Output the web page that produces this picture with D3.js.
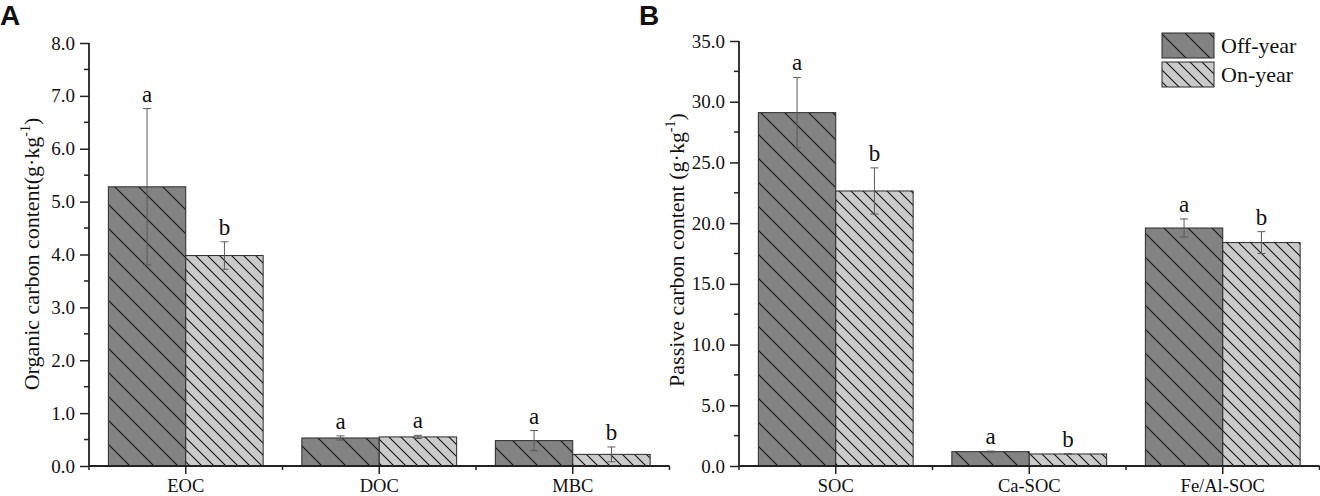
<!DOCTYPE html>
<html>
<head>
<meta charset="utf-8">
<script src="https://cdn.jsdelivr.net/npm/d3@7"></script>
<style>
  html, body { margin: 0; padding: 0; background: #fff; }
  svg { display: block; }
  text { font-family: "Liberation Serif", "Times New Roman", serif; fill: #111; }
</style>
</head>
<body>
<svg id="chart" width="1320" height="496"></svg>
<script>
// ---------- data ----------
const seriesNames = ["Off-year", "On-year"];

const categoriesA = ["EOC", "DOC", "MBC"];
const offA = [5.28, 0.53, 0.48];
const offAErr = [1.48, 0.04, 0.19];
const onA = [3.98, 0.55, 0.22];
const onAErr = [0.26, 0.03, 0.14];
const lettersOffA = ["a", "a", "a"];
const lettersOnA = ["b", "a", "b"];
const ticksA = [0, 1, 2, 3, 4, 5, 6, 7, 8];

const categoriesB = ["SOC", "Ca-SOC", "Fe/Al-SOC"];
const offB = [29.1, 1.18, 19.6];
const offBErr = [2.9, 0.05, 0.75];
const onB = [22.65, 0.99, 18.4];
const onBErr = [1.9, 0.03, 0.9];
const lettersOffB = ["a", "a", "a"];
const lettersOnB = ["b", "b", "b"];
const ticksB = [0, 5, 10, 15, 20, 25, 30, 35];

// ---------- drawing ----------
const SERIF = '"Liberation Serif", "Times New Roman", serif';
const svg = d3.select("#chart");
const defs = svg.append("defs");

function hatch(id, fill, size) {
  const p = defs.append("pattern")
    .attr("id", id).attr("patternUnits", "userSpaceOnUse")
    .attr("width", size).attr("height", size);
  p.append("rect").attr("width", size).attr("height", size).attr("fill", fill);
  p.append("path")
    .attr("d", `M0,0L${size},${size}M${-3},${size - 3}L3,${size + 3}M${size - 3},-3L${size + 3},3`)
    .attr("stroke", "#151515").attr("stroke-width", 1.1);
}
hatch("hatchOff", "#828282", 24);
hatch("hatchOn", "#cacaca", 12);
const fills = ["url(#hatchOff)", "url(#hatchOn)"];

function panel(cfg) {
  const g = svg.append("g");
  const y = d3.scaleLinear().domain([0, cfg.max]).range([466, cfg.top]);
  const x = d3.scaleBand().domain(cfg.categories)
    .range([cfg.left, cfg.right]).paddingInner(0.2).paddingOuter(0.1);
  const xs = d3.scaleBand().domain(seriesNames).range([0, x.bandwidth()]).padding(0);
  const step = x.step();

  const vals = [cfg.off, cfg.on], errs = [cfg.offErr, cfg.onErr], lets = [cfg.lOff, cfg.lOn];

  // bars
  seriesNames.forEach((s, si) => {
    g.selectAll(null).data(cfg.categories).enter().append("rect")
      .attr("x", c => x(c) + xs(s))
      .attr("y", (c, i) => y(vals[si][i]))
      .attr("width", xs.bandwidth())
      .attr("height", (c, i) => y(0) - y(vals[si][i]))
      .attr("fill", fills[si])
      .attr("stroke", "#2a2a2a").attr("stroke-width", 1);
  });

  // error bars + letters
  seriesNames.forEach((s, si) => {
    cfg.categories.forEach((c, i) => {
      const cx = x(c) + xs(s) + xs.bandwidth() / 2;
      const v = vals[si][i], e = errs[si][i];
      const eb = g.append("g").attr("stroke", "#5a5a5a").attr("stroke-width", 1);
      eb.append("line").attr("x1", cx).attr("x2", cx).attr("y1", y(v - e)).attr("y2", y(v + e));
      eb.append("line").attr("x1", cx - 4).attr("x2", cx + 4).attr("y1", y(v + e)).attr("y2", y(v + e));
      eb.append("line").attr("x1", cx - 4).attr("x2", cx + 4).attr("y1", y(v - e)).attr("y2", y(v - e));
      g.append("text").attr("x", cx).attr("y", y(v + e) - 7)
        .attr("text-anchor", "middle").style("font-family", SERIF).style("font-size", "23px")
        .text(lets[si][i]);
    });
  });

  // y axis
  const yAxis = d3.axisLeft(y).tickValues(cfg.ticks).tickSize(9).tickPadding(5)
    .tickFormat(d3.format(".1f"));
  const ya = g.append("g").attr("transform", `translate(${cfg.left},0)`).call(yAxis);
  ya.select(".domain").attr("d", `M0,${y(0)}V${y(cfg.max)}`).attr("stroke", "#222").attr("stroke-width", 1.8);
  ya.selectAll(".tick line").attr("stroke", "#222").attr("stroke-width", 1.5);
  ya.selectAll(".tick text").style("font-family", SERIF).style("font-size", "19px").attr("fill", "#111");
  // minor y ticks
  const minor = cfg.ticks.slice(0, -1).map((t, i) => (t + cfg.ticks[i + 1]) / 2);
  g.selectAll(null).data(minor).enter().append("line")
    .attr("x1", cfg.left - 5).attr("x2", cfg.left)
    .attr("y1", d => y(d)).attr("y2", d => y(d))
    .attr("stroke", "#222").attr("stroke-width", 1.5);

  // x axis
  const xAxis = d3.axisBottom(x).tickSize(8).tickPadding(5).tickSizeOuter(0);
  const xa = g.append("g").attr("transform", `translate(0,${y(0)})`).call(xAxis);
  xa.select(".domain").attr("d", `M${cfg.left},0H${cfg.right}`).attr("stroke", "#222").attr("stroke-width", 2);
  xa.selectAll(".tick line").attr("stroke", "#222").attr("stroke-width", 1.5);
  xa.selectAll(".tick text").style("font-family", SERIF).style("font-size", "18.5px").attr("fill", "#111")
    .attr("dy", "0.7em");
  const bounds = d3.range(cfg.categories.length + 1).map(i => cfg.left + i * step);
  g.selectAll(null).data(bounds).enter().append("line")
    .attr("x1", d => d).attr("x2", d => d)
    .attr("y1", y(0)).attr("y2", y(0) + 4)
    .attr("stroke", "#222").attr("stroke-width", 1.5);

  // y title
  const t = g.append("text")
    .attr("transform", `translate(${cfg.titleX},${cfg.titleY}) rotate(-90)`)
    .attr("text-anchor", "middle").style("font-family", SERIF).style("font-size", "22px");
  t.append("tspan").text(cfg.title);
  t.append("tspan").style("font-size", "14px").attr("dy", -9).text("-1");
  t.append("tspan").attr("dy", 9).text(")");

  // panel label
  svg.append("text").attr("x", cfg.labelX).attr("y", 25)
    .style("font-family", '"Liberation Sans", Arial, sans-serif')
    .style("font-weight", "bold").style("font-size", "28px").text(cfg.label);
}

panel({
  categories: categoriesA, off: offA, offErr: offAErr, on: onA, onErr: onAErr,
  lOff: lettersOffA, lOn: lettersOnA, ticks: ticksA, max: 8, top: 43,
  left: 89, right: 669.5, title: "Organic carbon content(g·kg", titleX: 39, titleY: 254,
  label: "A", labelX: 0
});
panel({
  categories: categoriesB, off: offB, offErr: offBErr, on: onB, onErr: onBErr,
  lOff: lettersOffB, lOn: lettersOnB, ticks: ticksB, max: 35, top: 41,
  left: 739, right: 1319.5, title: "Passive carbon content (g·kg", titleX: 684, titleY: 250,
  label: "B", labelX: 639
});

// legend
const legend = svg.append("g");
seriesNames.forEach((s, i) => {
  legend.append("rect").attr("x", 1162).attr("y", 33 + i * 29).attr("width", 52).attr("height", 25)
    .attr("fill", fills[i]).attr("stroke", "#2a2a2a").attr("stroke-width", 1);
  legend.append("text").attr("x", 1221).attr("y", 53 + i * 29)
    .style("font-family", SERIF).style("font-size", "22px").text(s);
});
</script>
</body>
</html>
